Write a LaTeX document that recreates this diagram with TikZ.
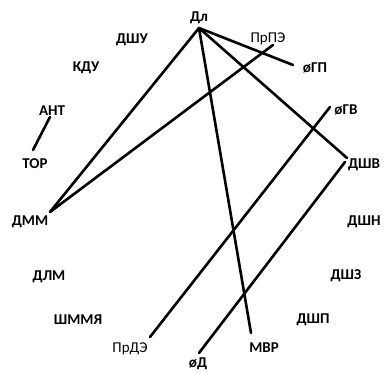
\documentclass[tikz,border=0pt]{standalone}
\usepackage{fontspec}
\setmainfont{Carlito}
\begin{document}
\begin{tikzpicture}[x=1pt,y=-1pt,
  lbl/.style={font=\bfseries\fontsize{15}{17}\selectfont, inner sep=0pt},
  lblr/.style={font=\fontsize{15}{17}\selectfont, inner sep=0pt},
  link/.style={line width=2.6pt, line cap=round}]
\useasboundingbox (0,0) rectangle (391,374);
\node[lbl] (Dl) at (199,18) {Дл};
\node[lbl] (DShU) at (132,40) {ДШУ};
\node[lbl] (KDU) at (86,68) {КДУ};
\node[lbl] (ANT) at (52,111) {АНТ};
\node[lbl] (TOR) at (35,164) {ТОР};
\node[lbl] (DMM) at (30,222) {ДММ};
\node[lbl] (DLM) at (49,277) {ДЛМ};
\node[lbl] (ShMMYa) at (78,320) {ШММЯ};
\node[lblr] (PrDE) at (130,349) {ПрДЭ};
\node[lbl] (oD) at (198,364) {øД};
\node[lbl] (MVR) at (264,348) {МВР};
\node[lbl] (DShP) at (313,320) {ДШП};
\node[lbl] (DShZ) at (346,276) {ДШЗ};
\node[lbl] (DShN) at (364,222) {ДШН};
\node[lbl] (DShV) at (364,165) {ДШВ};
\node[lbl] (oGV) at (346,110) {øГВ};
\node[lbl] (oGP) at (315,68) {øГП};
\node[lblr] (PrPE) at (268,39) {ПрПЭ};
% connector end points
\coordinate (Dl-p) at (199,28);
\coordinate (DMM-p) at (50,212);
\coordinate (oGP-p) at (293,65);
\coordinate (DShV-p1) at (347,158);
\coordinate (MVR-p) at (251,333);
\coordinate (PrPE-p) at (273,45);
\coordinate (PrDE-p) at (150,337);
\coordinate (oGV-p) at (330,107);
\coordinate (oD-p) at (199,353);
\coordinate (DShV-p2) at (345,162);
\coordinate (ANT-p) at (50,117);
\coordinate (TOR-p) at (33,150);
\draw[link] (Dl-p) -- (DMM-p);
\draw[link] (Dl-p) -- (oGP-p);
\draw[link] (Dl-p) -- (DShV-p1);
\draw[link] (Dl-p) -- (MVR-p);
\draw[link] (DMM-p) -- (PrPE-p);
\draw[link] (PrDE-p) -- (oGV-p);
\draw[link] (oD-p) -- (DShV-p2);
\draw[link] (ANT-p) -- (TOR-p);
\end{tikzpicture}
\end{document}
